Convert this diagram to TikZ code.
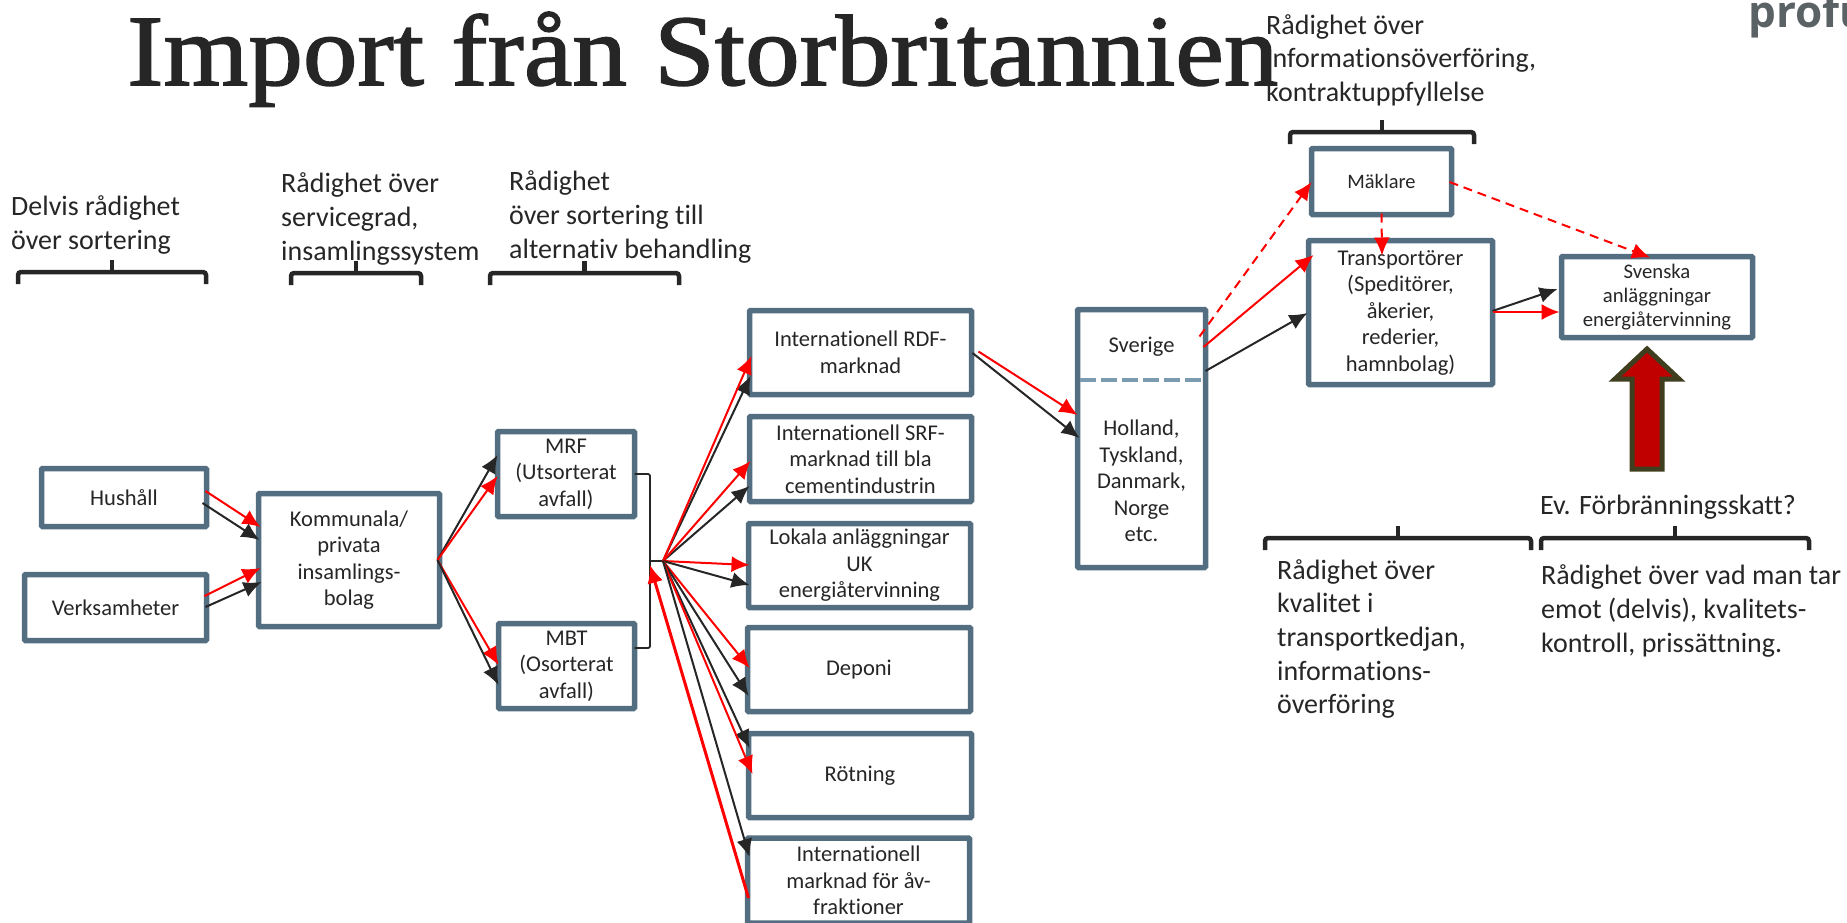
\documentclass[tikz,border=0pt]{standalone}
\usepackage{fontspec}
\setmainfont{Carlito}[Ligatures=NoCommon]
\newfontfamily\titlefont{Liberation Serif}[FakeStretch=1.08,FakeBold=1.5]
\newfontfamily\logofont{Open Sans}
\usetikzlibrary{arrows.meta,calc}
\definecolor{boxc}{HTML}{536E80}
\definecolor{dashc}{HTML}{7A9BB0}
\definecolor{ink}{HTML}{262626}
\definecolor{redc}{HTML}{FF0000}
\definecolor{olivec}{HTML}{3F3F1F}
\definecolor{darkred}{HTML}{C00000}
\definecolor{logoc}{HTML}{5A6266}
\tikzset{
  x=1pt,y=-1pt,
  box/.style={draw=boxc,line width=5.5pt,fill=white,rounded corners=1pt,align=center,inner sep=0pt,outer sep=0pt,text=ink,font=\fontsize{22.5}{26.5}\selectfont,execute at begin node=\vspace*{5pt}},
  lab/.style={align=left,anchor=west,inner sep=0pt,text=ink,font=\fontsize{28}{33.6}\selectfont},
  blk/.style={ink,line width=2pt,-{Latex[length=18pt,width=16pt]}},
  rd/.style={redc,line width=2pt,-{Latex[length=18pt,width=16pt]}},
  rdd/.style={rd,dash pattern=on 9pt off 6pt},
  brk/.style={ink,line width=4.5pt,rounded corners=3pt},
}
\newcommand{\brkt}[3]{%
  \draw[brk] (#1,#3+12) -- (#1,#3) -- (#2,#3) -- (#2,#3+12);
  \draw[brk] ({(#1+#2)/2},#3) -- ({(#1+#2)/2},#3-12);
}
\begin{document}
\begin{tikzpicture}
\useasboundingbox (0,0) rectangle (1847,922);
\begin{scope}
\clip (0,0) rectangle (1847,922);
\node[anchor=base west,inner sep=0pt,text=ink,font=\titlefont\fontsize{101}{101}\selectfont] (title) at (127,85) {Import från Storbritannien};
\node[anchor=base west,inner sep=0pt,text=logoc,font=\logofont\bfseries\fontsize{44}{44}\selectfont] (logo) at (1748,27) {profu};

% connectors
\node[box,minimum width=165,minimum height=58] (hus) at (124,497.5) {Hushåll};
\node[box,minimum width=182,minimum height=66] (ver) at (115.5,607.5) {Verksamheter};
\node[box,minimum width=181,minimum height=133] (kom) at (349,560) {Kommunala/\\privata\\insamlings-\\bolag};
\node[box,minimum width=137,minimum height=85] (mrf) at (566,474) {MRF\\(Utsorterat\\avfall)};
\node[box,minimum width=136,minimum height=85] (mbt) at (566.5,666) {MBT\\(Osorterat\\avfall)};
\node[box,minimum width=222,minimum height=84] (rdf) at (860.5,352.5) {Internationell RDF-\\marknad};
\node[box,minimum width=222,minimum height=85] (srf) at (860.5,459) {Internationell SRF-\\marknad till bla\\cementindustrin};
\node[box,minimum width=222,minimum height=84] (lok) at (859.5,565.5) {Lokala anläggningar\\UK\\energiåtervinning};
\node[box,minimum width=223,minimum height=84] (dep) at (859,669.5) {Deponi};
\node[box,minimum width=223,minimum height=84] (rot) at (860,775.5) {Rötning};
\node[box,minimum width=222,minimum height=85] (int) at (858.5,880.5) {Internationell\\marknad för åv-\\fraktioner};
\node[box,minimum width=128,minimum height=258] (sve) at (1141.5,438.5) {};
\node[inner sep=0pt,text=ink,font=\fontsize{22.5}{26.5}\selectfont] (sv1) at (1141.5,347) {Sverige};
\node[inner sep=0pt,align=center,text=ink,font=\fontsize{22.5}{26.5}\selectfont] (sv2) at (1141.5,481) {Holland,\\Tyskland,\\Danmark,\\Norge\\etc.};
\draw[dashc,line width=4pt,dash pattern=on 16pt off 5pt] ($(sve.west)+(2,-58.5)$) -- ($(sve.east)+(-2,-58.5)$);
\node[box,minimum width=140,minimum height=66,font=\fontsize{20.5}{24}\selectfont] (mak) at (1381.5,181.5) {Mäklare};
\node[box,minimum width=184,minimum height=144] (tra) at (1400.5,312.5) {Transportörer\\(Speditörer,\\åkerier,\\rederier,\\hamnbolag)};
\node[box,minimum width=191,minimum height=81,font=\fontsize{20.7}{24}\selectfont] (sva) at (1657,297) {Svenska\\anläggningar\\energiåtervinning};

\coordinate (hub) at (663,561);
\coordinate (brk) at (650,561);
\draw[ink,line width=1.8pt,rounded corners=2pt] (mrf.east) -- (650,474) -- (650,648) -- ($(mbt.east)+(0,-18)$);
\draw[ink,line width=1.8pt] (brk) -- (hub);

\draw[rd] ($(hus.east)+(-1,-6.5)$) -- ($(kom.west)+(2,-33)$);
\draw[blk] ($(hus.east)+(-4,5.5)$) -- ($(kom.west)+(1,-20)$);
\draw[rd] ($(ver.east)+(-2,-11.5)$) -- ($(kom.west)+(2,8)$);
\draw[blk] ($(ver.east)+(-1,-0.5)$) -- ($(kom.west)+(3,22)$);
\coordinate (kout) at ($(kom.east)+(-2,0)$);
\draw[blk] (kout) -- ($(mrf.west)+(0,-19)$);
\draw[rd] (kout) -- ($(mrf.west)+(0,2)$);
\draw[rd] (kout) -- ($(mbt.west)+(0,-1)$);
\draw[blk] (kout) -- ($(mbt.west)+(0,19)$);

\draw[blk] (hub) -- ($(rdf.west)+(1,23.5)$);
\draw[rd] (hub) -- ($(rdf.west)+(2,3.5)$);
\draw[blk] (hub) -- ($(srf.west)+(0,27)$);
\draw[rd] (hub) -- ($(srf.west)+(1,2)$);
\draw[rd] (hub) -- ($(lok.west)+(1,-0.5)$);
\draw[blk] (hub) -- ($(lok.west)+(1,19.5)$);
\draw[rd] (hub) -- ($(dep.west)+(2,-1.5)$);
\draw[blk] (hub) -- ($(dep.west)+(1,26.5)$);
\draw[blk] (hub) -- ($(rot.west)+(1,-27.5)$);
\draw[rd] (hub) -- ($(rot.west)+(4,-1.5)$);
\draw[blk] (hub) -- ($(int.west)+(2,-23.5)$);
\draw[redc,line width=3pt,-{Latex[length=18pt,width=16pt]}] ($(int.west)+(1,17.5)$) -- ($(brk)+(0,4)$);

\draw[rd] ($(rdf.east)+(7,-1)$) -- ($(sve.west)+(0,-23.5)$);
\draw[blk] ($(rdf.east)+(1,0.5)$) -- ($(sve.west)+(2,-0.5)$);
\draw[rdd] ($(sve.east)+(-6,-102)$) -- ($(mak.west)+(0,0.5)$);
\draw[rd] ($(sve.east)+(-2,-91.5)$) -- ($(tra.west)+(5,-57.5)$);
\draw[blk] ($(sve.east)+(0,-67.5)$) -- ($(tra.west)+(-1,0.5)$);
\draw[rdd] ($(mak.south)+(0,-1)$) -- ($(tra.north)+(-18.5,15)$);
\draw[rdd] ($(mak.east)+(-2,0.5)$) -- ($(sva.north)+(-7,1)$);
\draw[blk] ($(tra.east)+(0,-1.5)$) -- ($(sva.west)+(-4,-8)$);
\draw[rd] ($(tra.east)+(0,-0.5)$) -- ($(sva.west)+(-2,15)$);
\end{scope}

% labels
\node[lab] (l1) at (11,225) {Delvis rådighet\\över sortering};
\node[lab] (l2) at (281,219) {Rådighet över\\servicegrad,\\insamlingssystem};
\node[lab] (l3) at (509,217) {Rådighet\\över sortering till\\alternativ behandling};
\node[lab] (l4) at (1266,60) {Rådighet över\\informationsöverföring,\\kontraktuppfyllelse};
\node[lab] (l5) at (1277,639) {Rådighet över\\kvalitet i\\transportkedjan,\\informations-\\överföring};
\node[lab] (l6) at (1540,507) {Ev. Förbränningsskatt?};
\node[lab] (l7) at (1541,611) {Rådighet över vad man tar\\emot (delvis), kvalitets-\\kontroll, prissättning.};

\brkt{18}{206}{272}
\brkt{291}{421}{273}
\brkt{490}{679}{273}
\brkt{1290}{1474}{132}
\brkt{1265}{1531}{538}
\brkt{1541}{1809}{538}

\draw[draw=olivec,fill=darkred,line width=5pt,miter limit=10]
  (1647,349) -- (1679,379) -- (1662,379) -- (1662,469) -- (1632,469) -- (1632,379) -- (1615,379) -- cycle;
\end{tikzpicture}
\end{document}
